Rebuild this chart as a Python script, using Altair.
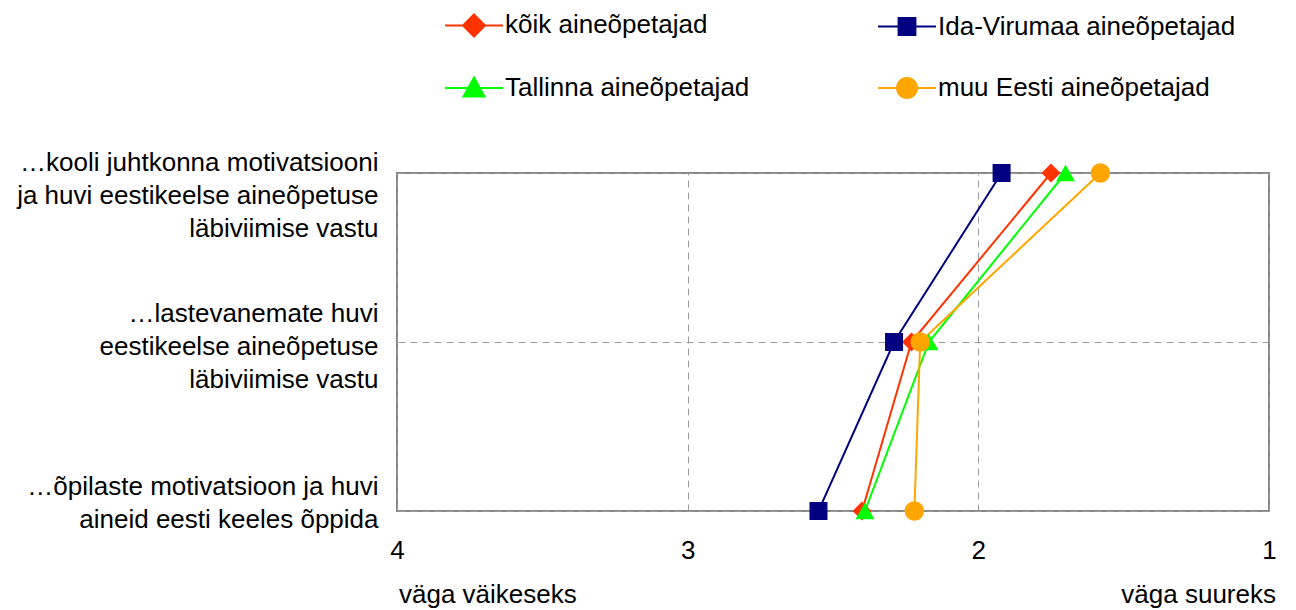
import altair as alt
import pandas as pd

CATEGORIES = [
    "…kooli juhtkonna motivatsiooni|ja huvi eestikeelse aineõpetuse|läbiviimise vastu",
    "…lastevanemate huvi|eestikeelse aineõpetuse|läbiviimise vastu",
    "…õpilaste motivatsioon ja huvi|aineid eesti keeles õppida",
]
SERIES = [
    "kõik aineõpetajad",
    "Ida-Virumaa aineõpetajad",
    "Tallinna aineõpetajad",
    "muu Eesti aineõpetajad",
]
KOIK = [1.75, 2.23, 2.40]
IDA_VIRUMAA = [1.92, 2.29, 2.55]
TALLINNA = [1.70, 2.17, 2.39]
MUU_EESTI = [1.58, 2.20, 2.22]
X_TICKS = [4, 3, 2, 1]
END_VALUES = [4, 1]
END_LABELS = ["väga väikeseks", "väga suureks"]

COLORS = ["#FF3300", "#000080", "#00FF00", "#FFA500"]
SHAPES = ["diamond", "square", "triangle-up", "circle"]
SIZES = [360, 324, 360, 380]
LEGEND_SHAPES = [
    "M-2.76,0H2.76M0,-1.05L1.05,0L0,1.05L-1.05,0Z",
    "M-2.76,0H2.76M-0.8,-0.8H0.8V0.8H-0.8Z",
    "M-2.76,0H2.76M0,-1L1,0.8H-1Z",
    "M-2.76,0H2.76M-0.95,0A0.95,0.95 0 1,1 0.95,0A0.95,0.95 0 1,1 -0.95,0Z",
]
FONT = "Liberation Sans"
FS = 26

rows = []
for s, vals in zip(SERIES, [KOIK, IDA_VIRUMAA, TALLINNA, MUU_EESTI]):
    for i, (c, v) in enumerate(zip(CATEGORIES, vals)):
        rows.append({"series": s, "cat": c, "idx": i, "value": v})
df = pd.DataFrame(rows)
ends = pd.DataFrame({"v": END_VALUES, "t": END_LABELS})

xscale = alt.Scale(domain=[1, 4], reverse=True, nice=False, zero=False)
x = alt.X(
    "value:Q",
    scale=xscale,
    axis=alt.Axis(
        values=X_TICKS, format="d", title=None, ticks=False, domain=False,
        grid=True, gridDash=[7, 5], gridColor="#9a9a9a", gridWidth=1,
        labelFontSize=FS, labelFont=FONT, labelColor="#000000",
        labelPadding=26, labelFlush=False,
    ),
)
label_offset = {
    "condition": [
        {"test": f"datum.value == '{CATEGORIES[0]}'", "value": -11},
        {"test": f"datum.value == '{CATEGORIES[2]}'", "value": -25},
    ],
    "value": -29,
}
y = alt.Y(
    "cat:N",
    sort=CATEGORIES,
    scale=alt.Scale(domain=CATEGORIES, padding=0),
    axis=alt.Axis(
        title=None, ticks=False, domain=False, grid=True,
        gridDash=[7, 5], gridColor="#9a9a9a", gridWidth=1,
        labelExpr="split(datum.label, '|')", labelLineHeight=33,
        labelFontSize=FS, labelFont=FONT, labelColor="#000000",
        labelPadding=19, labelLimit=0, labelOffset=label_offset,
    ),
)

color_scale = alt.Scale(domain=SERIES, range=COLORS)

lines = alt.Chart(df).mark_line(strokeWidth=2).encode(
    x=x, y=y,
    color=alt.Color("series:N", scale=color_scale, legend=None),
    order=alt.Order("idx:Q"),
    detail="series:N",
)

point_layers = []
for s, shp, sz in zip(SERIES, SHAPES, SIZES):
    point_layers.append(
        alt.Chart(df).transform_filter(alt.datum.series == s)
        .mark_point(filled=True, opacity=1, size=sz, shape=shp)
        .encode(x=x, y=y, color=alt.Color("series:N", scale=color_scale, legend=None))
    )

legend = alt.Legend(
    title=None, orient="none", legendX=64, legendY=-161, columns=2,
    direction="horizontal", labelFontSize=FS, labelFont=FONT, labelColor="#000000",
    symbolSize=441, symbolStrokeWidth=2, symbolOpacity=1, labelOffset=18,
    symbolStrokeColor=alt.ExprRef(expr="scale('color', datum.value)"),
    columnPadding=124, rowPadding=32, padding=0, labelLimit=0,
)
legend_layer = alt.Chart(df).mark_point(filled=True, opacity=0).encode(
    x=x, y=y,
    color=alt.Color("series:N", scale=color_scale, legend=legend),
    shape=alt.Shape("series:N", scale=alt.Scale(domain=SERIES, range=LEGEND_SHAPES), legend=legend),
)

left_end = alt.Chart(ends).transform_filter("datum.v == 4").mark_text(
    align="left", baseline="alphabetic", dx=2, fontSize=FS, font=FONT, color="#000000"
).encode(x=alt.X("v:Q", scale=xscale), y=alt.value(430), text="t:N")
right_end = alt.Chart(ends).transform_filter("datum.v == 1").mark_text(
    align="right", baseline="alphabetic", dx=7, fontSize=FS, font=FONT, color="#000000"
).encode(x=alt.X("v:Q", scale=xscale), y=alt.value(430), text="t:N")

chart = alt.layer(legend_layer, lines, *point_layers, left_end, right_end).properties(
    width=872, height=338,
    autosize=alt.AutoSizeParams(type="none"),
    padding={"left": 389, "top": 165, "right": 19, "bottom": 99},
    background="#ffffff",
).configure_view(stroke="#868686", strokeWidth=2)

chart.save("out.html", embed_options={"renderer": "svg", "actions": False})
